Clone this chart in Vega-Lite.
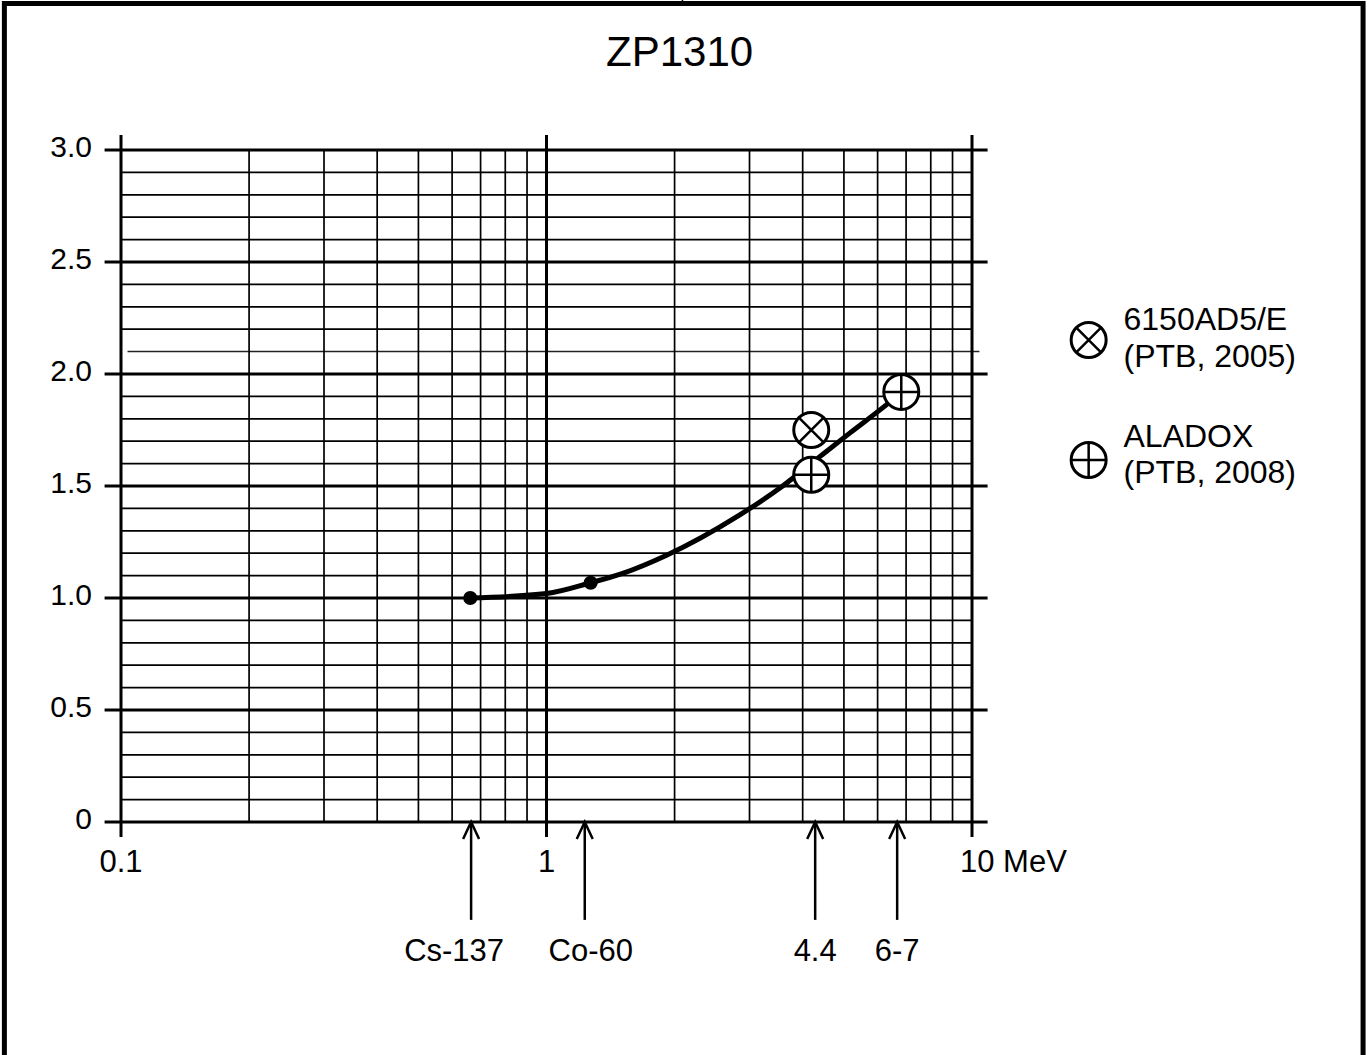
{
  "$schema": "https://vega.github.io/schema/vega-lite/v6.json",
  "width": 851,
  "height": 672,
  "autosize": {"type": "none"},
  "padding": {"left": 121, "top": 150, "right": 398, "bottom": 233},
  "background": "white",
  "config": {"view": {"stroke": null}, "text": {"font": "Liberation Sans", "color": "black"}},
  "data": {"values": [{}]},
  "datasets": {
    "vMinor": [{"E": 0.2}, {"E": 0.3}, {"E": 0.4}, {"E": 0.5}, {"E": 0.6}, {"E": 0.7}, {"E": 0.8}, {"E": 0.9}, {"E": 2}, {"E": 3}, {"E": 4}, {"E": 5}, {"E": 6}, {"E": 7}, {"E": 8}, {"E": 9}],
    "vMajor": [{"E": 0.1, "t": "0.1"}, {"E": 1, "t": "1"}, {"E": 10, "t": "10 MeV"}],
    "hMinor": [{"r": 0.1}, {"r": 0.2}, {"r": 0.3}, {"r": 0.4}, {"r": 0.6}, {"r": 0.7}, {"r": 0.8}, {"r": 0.9}, {"r": 1.1}, {"r": 1.2}, {"r": 1.3}, {"r": 1.4}, {"r": 1.6}, {"r": 1.7}, {"r": 1.8}, {"r": 1.9}, {"r": 2.2}, {"r": 2.3}, {"r": 2.4}, {"r": 2.6}, {"r": 2.7}, {"r": 2.8}, {"r": 2.9}],
    "hMajor": [{"r": 0, "t": "0"}, {"r": 0.5, "t": "0.5"}, {"r": 1.0, "t": "1.0"}, {"r": 1.5, "t": "1.5"}, {"r": 2.0, "t": "2.0"}, {"r": 2.5, "t": "2.5"}, {"r": 3.0, "t": "3.0"}],
    "curve": [{"E": 0.662, "r": 1.0}, {"E": 1.0, "r": 1.02}, {"E": 1.27, "r": 1.068}, {"E": 1.51, "r": 1.11}, {"E": 1.91, "r": 1.19}, {"E": 2.84, "r": 1.37}, {"E": 3.59, "r": 1.5}, {"E": 4.38, "r": 1.63}, {"E": 5.15, "r": 1.735}, {"E": 6.29, "r": 1.862}, {"E": 6.82, "r": 1.917}],
    "dots": [{"E": 0.662, "r": 1.0, "source": "Cs-137"}, {"E": 1.27, "r": 1.068, "source": "Co-60"}],
    "markers": [{"E": 4.19, "r": 1.75, "kind": "6150AD5/E (PTB, 2005)"}, {"E": 4.19, "r": 1.55, "kind": "ALADOX (PTB, 2008)"}, {"E": 6.82, "r": 1.92, "kind": "ALADOX (PTB, 2008)"}],
    "arrows": [{"E": 0.665, "label": "Cs-137"}, {"E": 1.23, "label": "Co-60"}, {"E": 4.28, "label": "4.4"}, {"E": 6.67, "label": "6-7"}]
  },
  "layer": [
    {
      "mark": {"type": "rect", "filled": false, "stroke": "black", "strokeWidth": 5},
      "encoding": {
        "x": {"datum": 0.0532, "type": "quantitative", "scale": {"type": "log", "domain": [0.1, 10], "nice": false}, "axis": null},
        "x2": {"datum": 83},
        "y": {"datum": 3.654, "type": "quantitative", "scale": {"domain": [0, 3], "nice": false, "zero": false}, "axis": null},
        "y2": {"datum": -1.1}
      }
    },
    {
      "data": {"name": "hMinor"},
      "mark": {"type": "rule", "color": "black", "strokeWidth": 1.7},
      "encoding": {
        "y": {"field": "r", "type": "quantitative", "scale": {"domain": [0, 3], "nice": false, "zero": false}, "axis": null},
        "x": {"datum": 0.1, "type": "quantitative", "scale": {"type": "log", "domain": [0.1, 10], "nice": false}, "axis": null},
        "x2": {"datum": 10}
      }
    },
    {
      "mark": {"type": "rule", "color": "#222", "strokeWidth": 1.5},
      "encoding": {
        "y": {"datum": 2.1, "type": "quantitative", "scale": {"domain": [0, 3], "nice": false, "zero": false}, "axis": null},
        "x": {"datum": 0.1036, "type": "quantitative", "scale": {"type": "log", "domain": [0.1, 10], "nice": false}, "axis": null},
        "x2": {"datum": 10.41}
      }
    },
    {
      "data": {"name": "hMajor"},
      "mark": {"type": "rule", "color": "black", "strokeWidth": 3},
      "encoding": {
        "y": {"field": "r", "type": "quantitative", "scale": {"domain": [0, 3], "nice": false, "zero": false}, "axis": null},
        "x": {"datum": 0.0915, "type": "quantitative", "scale": {"type": "log", "domain": [0.1, 10], "nice": false}, "axis": null},
        "x2": {"datum": 10.88}
      }
    },
    {
      "data": {"name": "vMinor"},
      "mark": {"type": "rule", "color": "black", "strokeWidth": 1.7},
      "encoding": {
        "x": {"field": "E", "type": "quantitative", "scale": {"type": "log", "domain": [0.1, 10], "nice": false}, "axis": null},
        "y": {"datum": 0, "type": "quantitative", "scale": {"domain": [0, 3], "nice": false, "zero": false}, "axis": null},
        "y2": {"datum": 3}
      }
    },
    {
      "data": {"name": "vMajor"},
      "mark": {"type": "rule", "color": "black", "strokeWidth": 3},
      "encoding": {
        "x": {"field": "E", "type": "quantitative", "scale": {"type": "log", "domain": [0.1, 10], "nice": false}, "axis": null},
        "y": {"datum": -0.067, "type": "quantitative", "scale": {"domain": [0, 3], "nice": false, "zero": false}, "axis": null},
        "y2": {"datum": 3.067}
      }
    },
    {
      "mark": {"type": "rule", "color": "black", "strokeWidth": 1.5},
      "encoding": {
        "x": {"datum": 2.087, "type": "quantitative", "scale": {"type": "log", "domain": [0.1, 10], "nice": false}, "axis": null},
        "y": {"datum": 3.67, "type": "quantitative", "scale": {"domain": [0, 3], "nice": false, "zero": false}, "axis": null},
        "y2": {"datum": 3.645}
      }
    },
    {
      "data": {"name": "curve"},
      "mark": {"type": "line", "color": "black", "strokeWidth": 5, "interpolate": "monotone"},
      "encoding": {
        "x": {"field": "E", "type": "quantitative", "scale": {"type": "log", "domain": [0.1, 10], "nice": false}, "axis": null},
        "y": {"field": "r", "type": "quantitative", "scale": {"domain": [0, 3], "nice": false, "zero": false}, "axis": null}
      }
    },
    {
      "data": {"name": "dots"},
      "mark": {"type": "point", "shape": "circle", "filled": true, "color": "black", "size": 200, "opacity": 1},
      "encoding": {
        "x": {"field": "E", "type": "quantitative", "scale": {"type": "log", "domain": [0.1, 10], "nice": false}, "axis": null},
        "y": {"field": "r", "type": "quantitative", "scale": {"domain": [0, 3], "nice": false, "zero": false}, "axis": null}
      }
    },
    {
      "data": {"name": "markers"},
      "mark": {"type": "point", "shape": "circle", "fill": "white", "fillOpacity": 1, "stroke": "black", "strokeWidth": 3, "size": 1225, "opacity": 1},
      "encoding": {
        "x": {"field": "E", "type": "quantitative", "scale": {"type": "log", "domain": [0.1, 10], "nice": false}, "axis": null},
        "y": {"field": "r", "type": "quantitative", "scale": {"domain": [0, 3], "nice": false, "zero": false}, "axis": null}
      }
    },
    {
      "data": {"name": "markers"},
      "mark": {"type": "point", "filled": false, "stroke": "black", "strokeWidth": 2.5, "size": 1225, "opacity": 1},
      "encoding": {
        "x": {"field": "E", "type": "quantitative", "scale": {"type": "log", "domain": [0.1, 10], "nice": false}, "axis": null},
        "y": {"field": "r", "type": "quantitative", "scale": {"domain": [0, 3], "nice": false, "zero": false}, "axis": null},
        "shape": {"field": "kind", "type": "nominal", "scale": {"domain": ["6150AD5/E (PTB, 2005)", "ALADOX (PTB, 2008)"], "range": ["M-0.707,-0.707L0.707,0.707M-0.707,0.707L0.707,-0.707", "M-1,0L1,0M0,-1L0,1"]}, "legend": null}
      }
    },
    {
      "mark": {"type": "point", "shape": "circle", "fill": "white", "fillOpacity": 1, "stroke": "black", "strokeWidth": 3, "size": 1225, "opacity": 1},
      "encoding": {
        "x": {"datum": 18.8, "type": "quantitative", "scale": {"type": "log", "domain": [0.1, 10], "nice": false}, "axis": null},
        "y": {"datum": 2.152, "type": "quantitative", "scale": {"domain": [0, 3], "nice": false, "zero": false}, "axis": null}
      }
    },
    {
      "mark": {"type": "point", "shape": "circle", "fill": "white", "fillOpacity": 1, "stroke": "black", "strokeWidth": 3, "size": 1225, "opacity": 1},
      "encoding": {
        "x": {"datum": 18.8, "type": "quantitative", "scale": {"type": "log", "domain": [0.1, 10], "nice": false}, "axis": null},
        "y": {"datum": 1.616, "type": "quantitative", "scale": {"domain": [0, 3], "nice": false, "zero": false}, "axis": null}
      }
    },
    {
      "mark": {"type": "point", "shape": "M-0.707,-0.707L0.707,0.707M-0.707,0.707L0.707,-0.707", "filled": false, "stroke": "black", "strokeWidth": 2.5, "size": 1225, "opacity": 1},
      "encoding": {
        "x": {"datum": 18.8, "type": "quantitative", "scale": {"type": "log", "domain": [0.1, 10], "nice": false}, "axis": null},
        "y": {"datum": 2.152, "type": "quantitative", "scale": {"domain": [0, 3], "nice": false, "zero": false}, "axis": null}
      }
    },
    {
      "mark": {"type": "point", "shape": "M-1,0L1,0M0,-1L0,1", "filled": false, "stroke": "black", "strokeWidth": 2.5, "size": 1225, "opacity": 1},
      "encoding": {
        "x": {"datum": 18.8, "type": "quantitative", "scale": {"type": "log", "domain": [0.1, 10], "nice": false}, "axis": null},
        "y": {"datum": 1.616, "type": "quantitative", "scale": {"domain": [0, 3], "nice": false, "zero": false}, "axis": null}
      }
    },
    {
      "mark": {"type": "text", "align": "left", "baseline": "middle", "fontSize": 32, "lineHeight": 37},
      "encoding": {
        "x": {"datum": 22.7, "type": "quantitative", "scale": {"type": "log", "domain": [0.1, 10], "nice": false}, "axis": null},
        "y": {"datum": 2.241, "type": "quantitative", "scale": {"domain": [0, 3], "nice": false, "zero": false}, "axis": null},
        "text": {"value": ["6150AD5/E", "(PTB, 2005)"]}
      }
    },
    {
      "mark": {"type": "text", "align": "left", "baseline": "middle", "fontSize": 32, "lineHeight": 36},
      "encoding": {
        "x": {"datum": 22.7, "type": "quantitative", "scale": {"type": "log", "domain": [0.1, 10], "nice": false}, "axis": null},
        "y": {"datum": 1.719, "type": "quantitative", "scale": {"domain": [0, 3], "nice": false, "zero": false}, "axis": null},
        "text": {"value": [" ALADOX", "(PTB, 2008)"]}
      }
    },
    {
      "data": {"name": "arrows"},
      "mark": {"type": "rule", "color": "black", "strokeWidth": 2.5},
      "encoding": {
        "x": {"field": "E", "type": "quantitative", "scale": {"type": "log", "domain": [0.1, 10], "nice": false}, "axis": null},
        "y": {"datum": 0, "type": "quantitative", "scale": {"domain": [0, 3], "nice": false, "zero": false}, "axis": null},
        "y2": {"datum": -0.437}
      }
    },
    {
      "data": {"name": "arrows"},
      "mark": {"type": "point", "shape": "M-0.47,1L0,0L0.47,1", "filled": false, "stroke": "black", "strokeWidth": 2.5, "size": 1156, "opacity": 1},
      "encoding": {
        "x": {"field": "E", "type": "quantitative", "scale": {"type": "log", "domain": [0.1, 10], "nice": false}, "axis": null},
        "y": {"datum": 0, "type": "quantitative", "scale": {"domain": [0, 3], "nice": false, "zero": false}, "axis": null}
      }
    },
    {
      "data": {"name": "arrows"},
      "transform": [{"filter": "datum.label === 'Cs-137'"}],
      "mark": {"type": "text", "align": "center", "baseline": "middle", "fontSize": 31, "dy": 130, "dx": -17},
      "encoding": {
        "x": {"field": "E", "type": "quantitative", "scale": {"type": "log", "domain": [0.1, 10], "nice": false}, "axis": null},
        "y": {"datum": 0, "type": "quantitative", "scale": {"domain": [0, 3], "nice": false, "zero": false}, "axis": null},
        "text": {"field": "label"}
      }
    },
    {
      "data": {"name": "arrows"},
      "transform": [{"filter": "datum.label === 'Co-60'"}],
      "mark": {"type": "text", "align": "center", "baseline": "middle", "fontSize": 31, "dy": 130, "dx": 6},
      "encoding": {
        "x": {"field": "E", "type": "quantitative", "scale": {"type": "log", "domain": [0.1, 10], "nice": false}, "axis": null},
        "y": {"datum": 0, "type": "quantitative", "scale": {"domain": [0, 3], "nice": false, "zero": false}, "axis": null},
        "text": {"field": "label"}
      }
    },
    {
      "data": {"name": "arrows"},
      "transform": [{"filter": "datum.label === '4.4' || datum.label === '6-7'"}],
      "mark": {"type": "text", "align": "center", "baseline": "middle", "fontSize": 31, "dy": 130},
      "encoding": {
        "x": {"field": "E", "type": "quantitative", "scale": {"type": "log", "domain": [0.1, 10], "nice": false}, "axis": null},
        "y": {"datum": 0, "type": "quantitative", "scale": {"domain": [0, 3], "nice": false, "zero": false}, "axis": null},
        "text": {"field": "label"}
      }
    },
    {
      "data": {"name": "hMajor"},
      "mark": {"type": "text", "align": "right", "baseline": "middle", "fontSize": 30, "dx": -29, "dy": -2},
      "encoding": {
        "y": {"field": "r", "type": "quantitative", "scale": {"domain": [0, 3], "nice": false, "zero": false}, "axis": null},
        "x": {"datum": 0.1, "type": "quantitative", "scale": {"type": "log", "domain": [0.1, 10], "nice": false}, "axis": null},
        "text": {"field": "t"}
      }
    },
    {
      "data": {"name": "vMajor"},
      "transform": [{"filter": "datum.E < 5"}],
      "mark": {"type": "text", "align": "center", "baseline": "middle", "fontSize": 31, "dy": 41},
      "encoding": {
        "x": {"field": "E", "type": "quantitative", "scale": {"type": "log", "domain": [0.1, 10], "nice": false}, "axis": null},
        "y": {"datum": 0, "type": "quantitative", "scale": {"domain": [0, 3], "nice": false, "zero": false}, "axis": null},
        "text": {"field": "t"}
      }
    },
    {
      "data": {"name": "vMajor"},
      "transform": [{"filter": "datum.E > 5"}],
      "mark": {"type": "text", "align": "left", "baseline": "middle", "fontSize": 31, "dy": 41, "dx": -12},
      "encoding": {
        "x": {"field": "E", "type": "quantitative", "scale": {"type": "log", "domain": [0.1, 10], "nice": false}, "axis": null},
        "y": {"datum": 0, "type": "quantitative", "scale": {"domain": [0, 3], "nice": false, "zero": false}, "axis": null},
        "text": {"field": "t"}
      }
    },
    {
      "mark": {"type": "text", "align": "center", "baseline": "middle", "fontSize": 42},
      "encoding": {
        "x": {"datum": 2.055, "type": "quantitative", "scale": {"type": "log", "domain": [0.1, 10], "nice": false}, "axis": null},
        "y": {"datum": 3.433, "type": "quantitative", "scale": {"domain": [0, 3], "nice": false, "zero": false}, "axis": null},
        "text": {"value": "ZP1310"}
      }
    }
  ]
}
